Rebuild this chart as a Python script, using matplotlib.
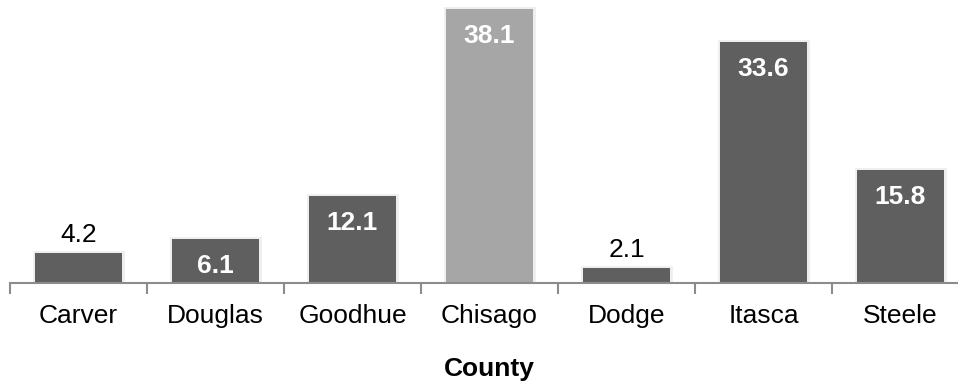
import matplotlib
matplotlib.use("Agg")
import matplotlib.pyplot as plt
import matplotlib.patheffects as pe
from matplotlib.transforms import offset_copy

plt.rcParams['font.family'] = ['Liberation Sans', 'DejaVu Sans']

counties = ["Carver", "Douglas", "Goodhue", "Chisago", "Dodge", "Itasca", "Steele"]
values = [4.2, 6.1, 12.1, 38.1, 2.1, 33.6, 15.8]
highlight = "Chisago"

dark = "#5f5f5f"
light = "#a6a6a6"
axis_grey = "#8c8c8c"
fs = 19

fig = plt.figure(figsize=(9.58, 3.86), dpi=100)
W, H = 958, 386
ax = fig.add_axes([10 / W, 103 / H, 959 / W, 283 / H])

colors = [light if c == highlight else dark for c in counties]
bars = ax.bar(range(len(counties)), values, width=0.635, color=colors,
              edgecolor="none", zorder=3)
# faint halo around each bar
for b in bars:
    b.set_path_effects([pe.Stroke(linewidth=3.5, foreground="#eeeeee"),
                        pe.Normal()])

ax.set_xlim(-0.5, len(counties) - 0.5)
ax.set_ylim(0, 39.4)

for side in ["top", "right", "left"]:
    ax.spines[side].set_visible(False)
ax.spines["bottom"].set_color(axis_grey)
ax.spines["bottom"].set_linewidth(1.5)
ax.spines["bottom"].set_zorder(5)
ax.set_yticks([])

# category ticks sit between bars
ax.set_xticks([i - 0.5 for i in range(len(counties) + 1)], minor=False)
ax.set_xticklabels([])
ax.tick_params(axis="x", which="major", length=8, width=1.5, color=axis_grey, direction="out")
ax.set_xticks(range(len(counties)), minor=True)
ax.set_xticklabels(counties, minor=True, fontsize=fs)
ax.tick_params(axis="x", which="minor", length=0, pad=15)

ax.set_xlabel("County", fontsize=fs, fontweight="bold", labelpad=21)

for i, v in enumerate(values):
    if v >= 5:
        t = offset_copy(ax.transData, fig=fig, x=0, y=-27, units="dots")
        ax.text(i, v, f"{v:.1f}", transform=t, ha="center", va="center",
                color="white", fontsize=fs, fontweight="bold", zorder=4)
    else:
        t = offset_copy(ax.transData, fig=fig, x=0, y=6, units="dots")
        ax.text(i, v, f"{v:.1f}", transform=t, ha="center", va="bottom",
                color="black", fontsize=fs, zorder=4)

fig.savefig("out.png", dpi=100)
